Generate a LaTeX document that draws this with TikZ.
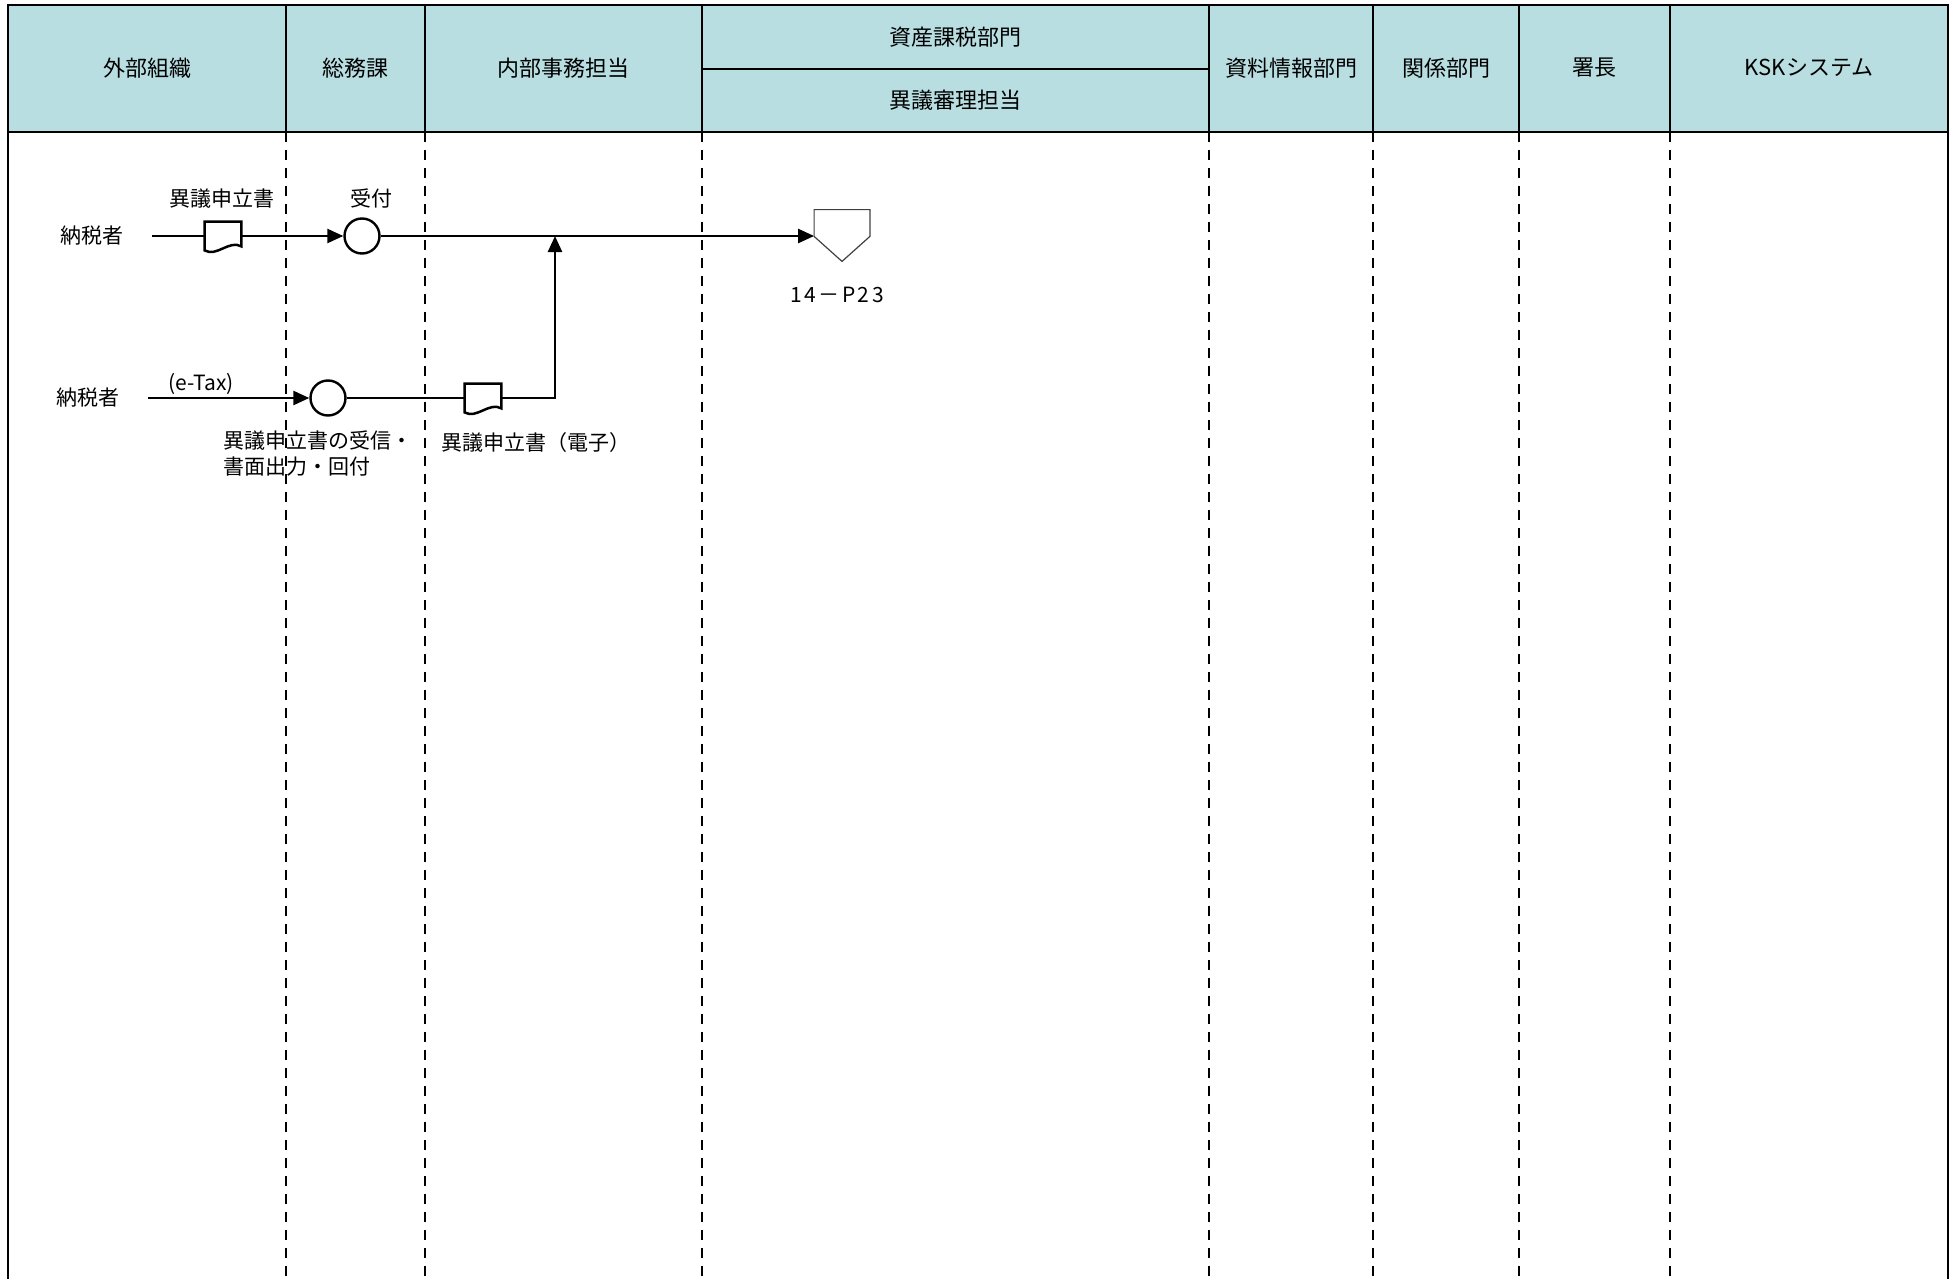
\documentclass[tikz,border=0pt]{standalone}
\usepackage{fontspec}
\setmainfont{Noto Sans CJK JP}
\newfontfamily\spacedfont[LetterSpace=12]{Noto Sans CJK JP}
\usetikzlibrary{arrows.meta,calc}

\definecolor{headfill}{RGB}{184,222,225}

% outlines drawn round empty nodes
\newcommand{\docoutline}[1]{%
    \draw[line] (#1.north west) -- (#1.south west)
        .. controls ($(#1.south west)+(12,7)$) and ($(#1.south east)+(-12,-11)$)
        .. ($(#1.south east)+(0,-4)$) -- (#1.north east) -- cycle;}
\newcommand{\offpageoutline}[1]{%
    \draw[draw=black!75, line width=0.6pt] (#1.north west) -- (#1.north east)
        -- (#1.south east) -- ($(#1.south)+(0,25)$) -- (#1.south west) -- cycle;}

\begin{document}
\begin{tikzpicture}[
        x=0.5pt, y=-0.5pt,
        font=\fontsize{10.5}{13}\selectfont,
        head/.style={font=\fontsize{11}{13}\selectfont, inner sep=0pt},
        lbl/.style={inner sep=0pt},
        actor/.style={inner xsep=14pt, inner ysep=0pt},
        border/.style={draw=black, line width=1.4pt},
        lane/.style={draw=black, line width=1.1pt, dash pattern=on 5pt off 4pt},
        line/.style={draw=black, line width=1.25pt},
        flow/.style={line, -{Triangle[length=8pt,width=7pt]}},
        proc/.style={circle, draw, line width=1.2pt, minimum size=17.5pt, inner sep=0pt},
        doc/.style={minimum width=18pt, minimum height=14pt, inner sep=0pt},
        offpage/.style={minimum width=27.5pt, minimum height=13pt, inner sep=0pt},
    ]

    \useasboundingbox (0,0) rectangle (1959,1279);

    \fill[headfill] (8,5) rectangle (1948,132);
    \draw[border] (8,5) rectangle (1948,132);
    \foreach \x in {286,425,702,1209,1373,1519,1670}
        \draw[border] (\x,5) -- (\x,132);
    \draw[border] (702,69) -- (1209,69);

    \draw[border] (8,132) -- (8,1279);
    \draw[border] (1948,132) -- (1948,1279);
    \foreach \x in {286,425,702,1209,1373,1519,1670}
        \draw[lane] (\x,132) -- (\x,1279);

    \node[head] (h-ext)  at (147,68)  {外部組織};
    \node[head] (h-gen)  at (355,68)  {総務課};
    \node[head] (h-int)  at (563,68)  {内部事務担当};
    \node[head] (h-ast)  at (955,37)  {資産課税部門};
    \node[head] (h-obj)  at (955,100) {異議審理担当};
    \node[head] (h-dat)  at (1291,68) {資料情報部門};
    \node[head] (h-rel)  at (1446,68) {関係部門};
    \node[head] (h-chf)  at (1594,68) {署長};
    \node[head] (h-ksk)  at (1809,68) {KSKシステム};

    % paper
    \node[actor] (tp1) at (92,236) {納税者};
    \node[doc] (doc1) at (223,236) {};
    \docoutline{doc1}
    \node[lbl] (doc1-lbl) at (222,199) {異議申立書};
    \node[proc] (rcv1) at (362,236) {};
    \node[lbl] (rcv1-lbl) at (371,198) {受付};
    \node[offpage] (p23) at (842,223) {};
    \offpageoutline{p23}
    \node[lbl] (p23-lbl) at (837,295) {\spacedfont 14－P23};

    \draw[line] (tp1) -- (doc1);
    \draw[flow] (doc1) -- (rcv1);
    \draw[flow] (rcv1) -- (rcv1 -| p23.west);

    % e-Tax
    \node[actor] (tp2) at (88,398) {納税者};
    \node[lbl] (etax) at (201,384) {(e-Tax)};
    \node[proc] (rcv2) at (328,398) {};
    \node[lbl, anchor=north west, align=left] (rcv2-lbl) at (223,430)
        {異議申立書の受信・\\書面出力・回付};
    \node[doc] (doc2) at (483,398) {};
    \docoutline{doc2}
    \node[lbl, anchor=west] (doc2-lbl) at (441,443) {異議申立書（電子）};
    \coordinate (jn) at (555,236);

    \draw[flow] (tp2) -- (rcv2);
    \draw[line] (rcv2) -- (doc2);
    \draw[flow] (doc2) -| (jn);

\end{tikzpicture}
\end{document}
